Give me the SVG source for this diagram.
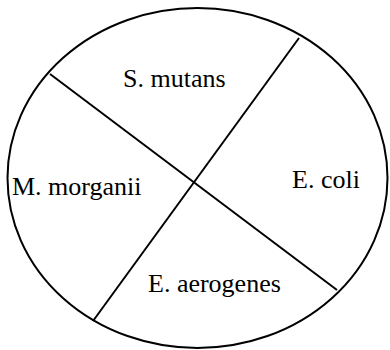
<svg xmlns="http://www.w3.org/2000/svg" width="390" height="350" viewBox="0 0 390 350">
<style>
.o{fill:none;stroke:#000;stroke-width:2}
.l{stroke:#000;stroke-width:2}
text{font-family:"Liberation Serif","Times New Roman",serif;font-size:26px;fill:#000}
</style>
<rect width="390" height="350" fill="#fff"/>
<g id="circle"><ellipse class="o" cx="197.5" cy="178" rx="190" ry="170"/></g>
<g id="connectors">
<line class="l" x1="50" y1="74" x2="337" y2="290"/>
<line class="l" x1="299" y1="38" x2="93" y2="321"/>
</g>
<g id="s-mutans"><text x="123" y="87">S. mutans</text></g>
<g id="m-morganii"><text x="12" y="195">M. morganii</text></g>
<g id="e-coli"><text x="292" y="188">E. coli</text></g>
<g id="e-aerogenes"><text x="148" y="292">E. aerogenes</text></g>
</svg>
